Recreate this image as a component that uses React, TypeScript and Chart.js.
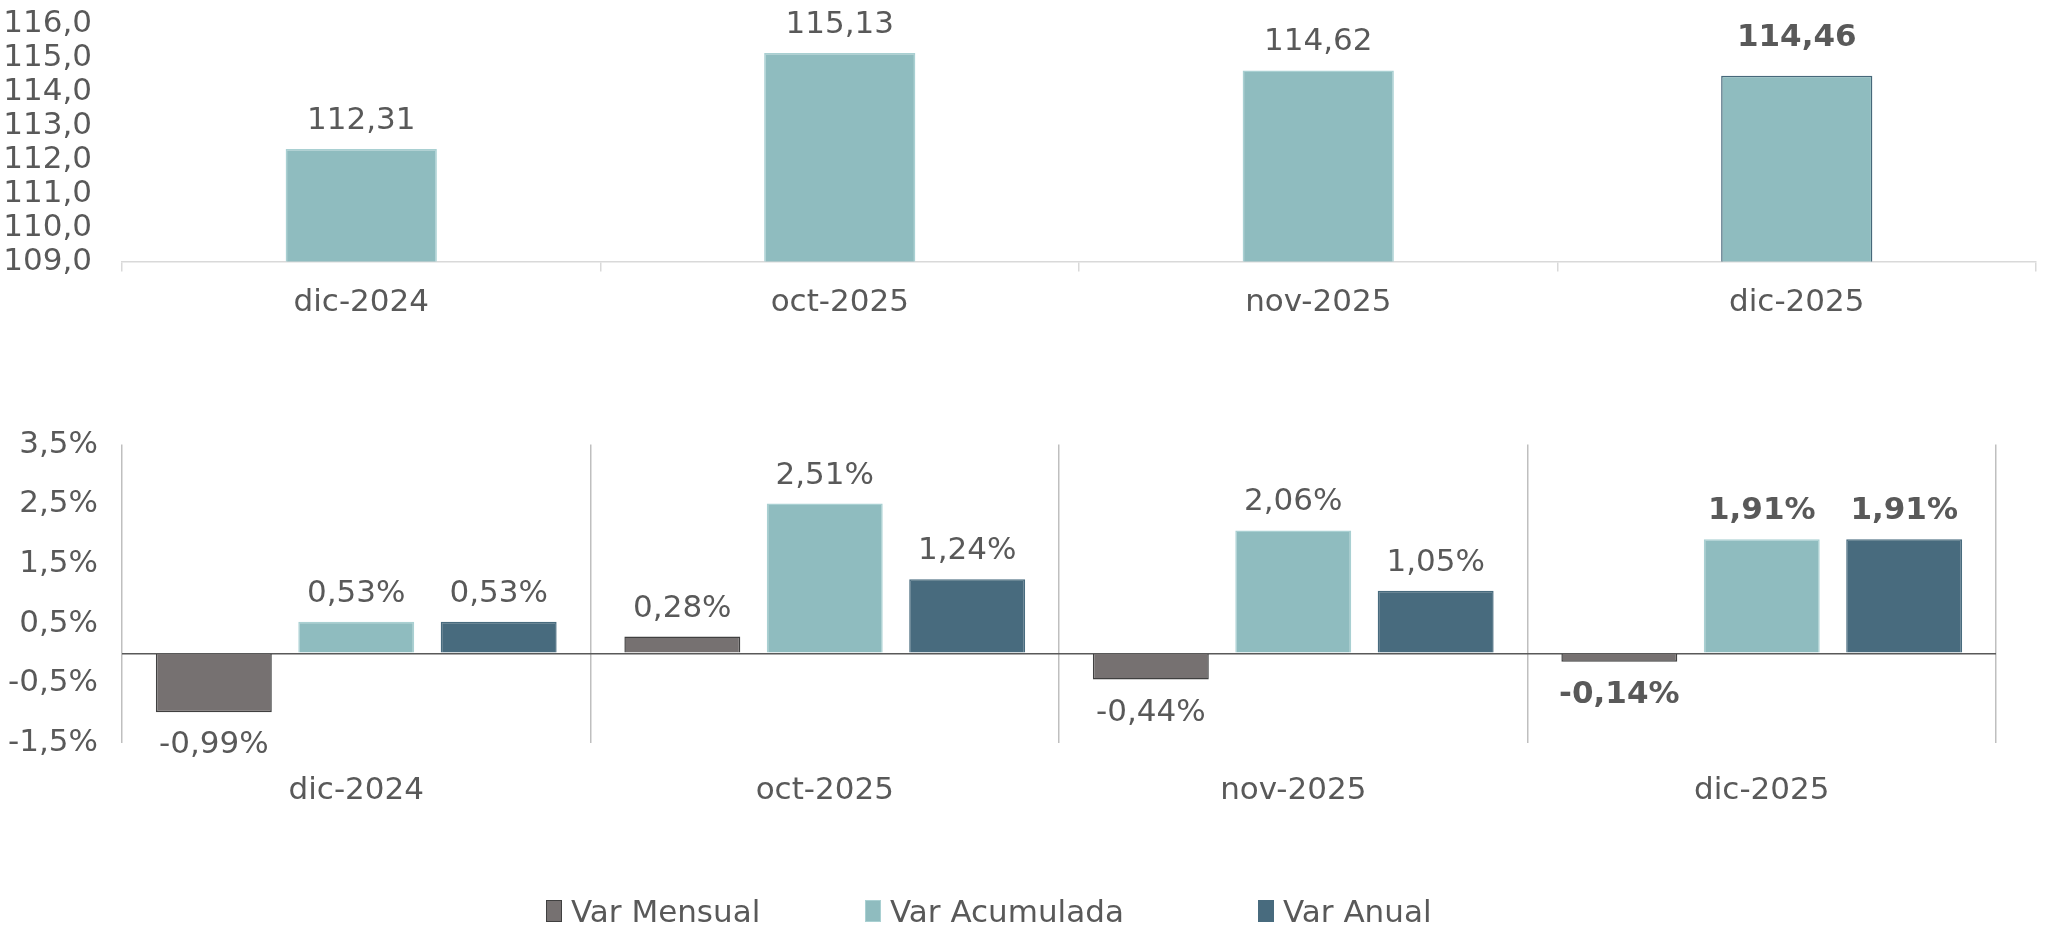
import React, { useEffect, useRef } from 'react';
import { Chart, registerables } from 'chart.js';

Chart.register(...registerables);

// ---------- data ----------
const categories = ['dic-2024', 'oct-2025', 'nov-2025', 'dic-2025'];
const indexValues = [112.31, 115.13, 114.62, 114.46];
const indexTicks = [109, 110, 111, 112, 113, 114, 115, 116];
const varMensual = [-0.99, 0.28, -0.44, -0.14];
const varAcumulada = [0.53, 2.51, 2.06, 1.91];
const varAnual = [0.53, 1.24, 1.05, 1.91];
const pctTicks = [-1.5, -0.5, 0, 0.5, 1.5, 2.5, 3.5];
const legendLabels = ['Var Mensual', 'Var Acumulada', 'Var Anual'];

// ---------- styles ----------
const FONT = "'DejaVu Sans', sans-serif";
const FONT_SIZE = 31;
const FONT_WEIGHT = 400;
const TEXT = '#595959';
const C_MENSUAL = '#767171';
const C_MENSUAL_B = '#404040';
const C_ACUM = '#8FBCBF';
const C_ACUM_B = '#A9D0D2';
const C_ANUAL = '#486B7E';
const C_ANUAL_B = '#486B7E';
const seriesFill = [C_MENSUAL, C_ACUM, C_ANUAL];
const seriesBorder = [C_MENSUAL_B, C_ACUM_B, C_ANUAL_B];
const legendWidths = [319, 393, undefined];

const fmt = (v: number, d: number) => v.toFixed(d).replace('.', ',');
const lastIdx = categories.length - 1;

const makeLabelPlugin = (suffix: string, offUp: number, offDown: number, boldExtra: number) => ({
  id: 'valueLabels',
  afterDatasetsDraw(chart: any) {
    const ctx = chart.ctx;
    ctx.save();
    ctx.textAlign = 'center';
    ctx.textBaseline = 'middle';
    ctx.fillStyle = TEXT;
    chart.data.datasets.forEach((ds: any, di: number) => {
      const meta = chart.getDatasetMeta(di);
      meta.data.forEach((el: any, i: number) => {
        const v = ds.data[i] as number;
        const bold = i === lastIdx;
        ctx.font = `${bold ? 'bold' : FONT_WEIGHT} ${FONT_SIZE}px ${FONT}`;
        const extra = bold ? boldExtra : 0;
        const y = v >= 0 ? el.y - offUp - extra : el.y + offDown + extra;
        ctx.fillText(fmt(v, 2) + suffix, el.x, y);
      });
    });
    ctx.restore();
  },
});

export default function App() {
  const topRef = useRef<HTMLCanvasElement>(null);
  const botRef = useRef<HTMLCanvasElement>(null);

  useEffect(() => {
    const tickFont = { family: FONT, size: FONT_SIZE, weight: FONT_WEIGHT };

    const top = new Chart(topRef.current as HTMLCanvasElement, {
      type: 'bar',
      data: {
        labels: categories,
        datasets: [
          {
            data: indexValues,
            backgroundColor: C_ACUM,
            borderColor: indexValues.map((_, i) => (i === lastIdx ? '#46687A' : C_ACUM_B)),
            borderWidth: 1.5,
            barPercentage: 0.316,
            categoryPercentage: 1,
          },
        ],
      },
      options: {
        responsive: false,
        animation: false,
        devicePixelRatio: 1,
        layout: { padding: { left: 0, right: 14, top: 23.5, bottom: 5.3 } },
        plugins: { legend: { display: false }, tooltip: { enabled: false } },
        scales: {
          x: {
            grid: { offset: true, drawOnChartArea: false, drawTicks: true, tickLength: 10, color: '#D9D9D9', lineWidth: 1.5 },
            border: { color: '#D9D9D9', width: 1.5 },
            ticks: { color: TEXT, font: tickFont, padding: 13 },
          },
          y: {
            min: 109,
            max: 116,
            afterBuildTicks: (s: any) => {
              s.ticks = indexTicks.map((v) => ({ value: v }));
            },
            afterFit: (s: any) => {
              s.width = 122;
            },
            // invisible tick marks provide the gap between labels and the plot
            grid: { display: false, drawTicks: true, tickLength: 30 },
            border: { display: false },
            ticks: {
              color: TEXT,
              font: tickFont,
              padding: 0,
              autoSkip: false,
              callback: (v: any) => fmt(Number(v), 1),
            },
          },
        },
      } as any,
      plugins: [makeLabelPlugin('', 28, 28, 10)],
    });

    const seriesData = [varMensual, varAcumulada, varAnual];
    const bot = new Chart(botRef.current as HTMLCanvasElement, {
      type: 'bar',
      data: {
        labels: categories,
        datasets: seriesData.map((d, i) => ({
          label: legendLabels[i],
          data: d,
          backgroundColor: seriesFill[i],
          borderColor: seriesBorder[i],
          borderWidth: 1.5,
          barPercentage: 0.814,
          categoryPercentage: 0.912,
        })),
      },
      options: {
        responsive: false,
        animation: false,
        devicePixelRatio: 1,
        layout: { padding: { left: 0, right: 54, top: 104.5, bottom: 89 } },
        plugins: { legend: { display: false }, tooltip: { enabled: false } },
        scales: {
          x: {
            grid: { offset: true, drawOnChartArea: true, drawTicks: false, color: '#BFBFBF', lineWidth: 1.5 },
            border: { display: false },
            ticks: { color: TEXT, font: tickFont, padding: 30 },
          },
          y: {
            min: -1.5,
            max: 3.5,
            afterBuildTicks: (s: any) => {
              s.ticks = pctTicks.map((v) => ({ value: v }));
            },
            afterFit: (s: any) => {
              s.width = 122;
            },
            grid: {
              drawTicks: false,
              lineWidth: 1.5,
              color: (c: any) => (c.tick && c.tick.value === 0 ? '#595959' : 'rgba(0,0,0,0)'),
            },
            border: { display: false },
            ticks: {
              color: TEXT,
              font: tickFont,
              padding: 24,
              autoSkip: false,
              callback: (v: any) => (Number(v) === 0 ? '' : fmt(Number(v), 1) + '%'),
            },
          },
        },
      } as any,
      plugins: [makeLabelPlugin('%', 28, 33, 0)],
    });

    return () => {
      top.destroy();
      bot.destroy();
    };
  }, []);

  return (
    <div style={{ position: 'absolute', left: 0, top: 0, width: 2050, height: 929, background: '#fff' }}>
      <canvas ref={topRef} width={2050} height={340} style={{ position: 'absolute', left: 0, top: 0 }} />
      <canvas ref={botRef} width={2050} height={589} style={{ position: 'absolute', left: 0, top: 340 }} />
      <div
        style={{
          position: 'absolute',
          left: 546,
          top: 892,
          display: 'flex',
          alignItems: 'center',
          fontFamily: FONT,
          fontSize: FONT_SIZE,
          fontWeight: FONT_WEIGHT,
          color: TEXT,
          lineHeight: '38px',
          whiteSpace: 'nowrap',
        }}
      >
        {legendLabels.map((l, i) => (
          <div key={l} style={{ display: 'flex', alignItems: 'center', width: legendWidths[i] }}>
            <span
              style={{
                display: 'inline-block',
                width: 16,
                height: 22,
                background: seriesFill[i],
                border: `1.5px solid ${seriesBorder[i]}`,
                boxSizing: 'border-box',
                marginRight: 9,
              }}
            />
            {l}
          </div>
        ))}
      </div>
    </div>
  );
}
